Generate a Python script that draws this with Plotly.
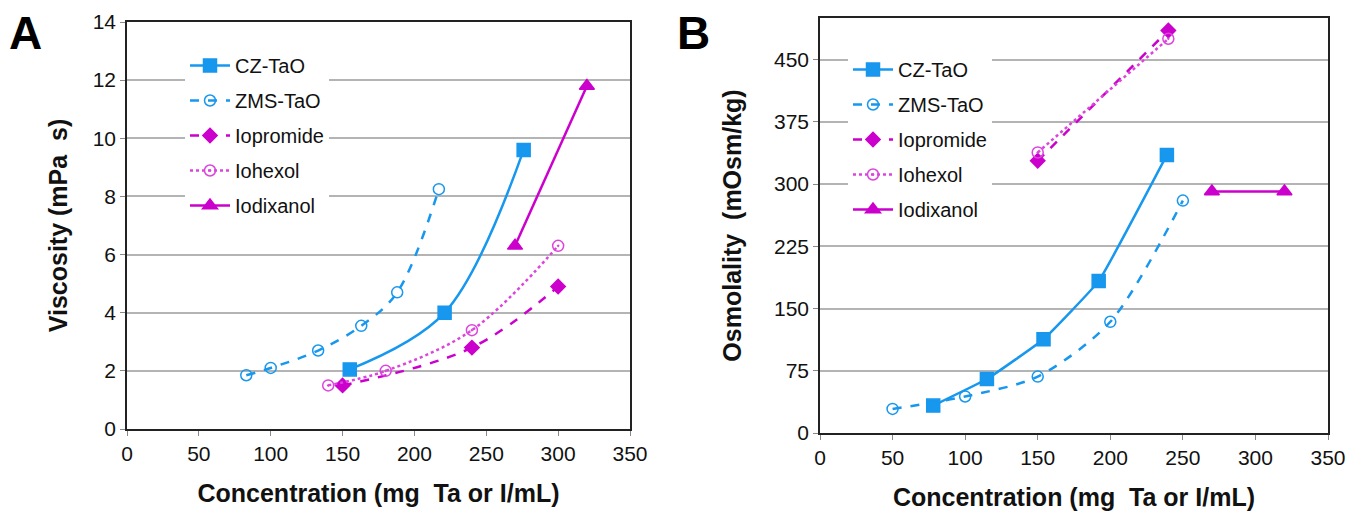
import plotly.graph_objects as go

# panel A: viscosity (mPa s) vs concentration
cz_visc_x = [155, 221, 276]
cz_visc_y = [2.05, 4.0, 9.6]
zms_visc_x = [83, 100, 133, 163, 188, 217]
zms_visc_y = [1.85, 2.1, 2.7, 3.55, 4.7, 8.25]
iopromide_visc_x = [150, 240, 300]
iopromide_visc_y = [1.5, 2.8, 4.9]
iohexol_visc_x = [140, 180, 240, 300]
iohexol_visc_y = [1.5, 2.0, 3.4, 6.3]
iodixanol_visc_x = [270, 320]
iodixanol_visc_y = [6.3, 11.8]

# panel B: osmolality (mOsm/kg) vs concentration
cz_osm_x = [78, 115, 154, 192, 239]
cz_osm_y = [33, 65, 113, 183, 335]
zms_osm_x = [50, 100, 150, 200, 250]
zms_osm_y = [29, 44, 68, 134, 280]
iopromide_osm_x = [150, 240]
iopromide_osm_y = [328, 485]
iohexol_osm_x = [150, 240]
iohexol_osm_y = [338, 475]
iodixanol_osm_x = [270, 320]
iodixanol_osm_y = [291, 291]

x_ticks = [0, 50, 100, 150, 200, 250, 300, 350]
visc_ticks = [0, 2, 4, 6, 8, 10, 12, 14]
osm_ticks = [0, 75, 150, 225, 300, 375, 450]

BLUE = "#1797EE"
MAGENTA = "#CC00CC"
LIGHT_MAGENTA = "#DD44DD"

series_style = {
  "CZ-TaO": dict(color=BLUE, dash="solid", symbol="square", size=13),
  "ZMS-TaO": dict(color=BLUE, dash="dash", symbol="circle-open", size=11),
  "Iopromide": dict(color=MAGENTA, dash="dash", symbol="diamond", size=11),
  "Iohexol": dict(color=LIGHT_MAGENTA, dash="dot", symbol="circle-open-dot", size=11),
  "Iodixanol": dict(color=MAGENTA, dash="solid", symbol="triangle-up", size=13),
}

fig = go.Figure()

def add_series(name, x, y, xaxis, yaxis, legend, smooth):
  s = series_style[name]
  fig.add_trace(go.Scatter(
    x=x,
    y=y,
    mode="lines+markers",
    name=name,
    legend=legend,
    legendgroup=legend + name,
    xaxis=xaxis,
    yaxis=yaxis,
    line=dict(color=s["color"], dash=s["dash"], width=2.5, shape="spline", smoothing=smooth),
    marker=dict(symbol=s["symbol"], size=s["size"], color=s["color"],
                line=dict(color=s["color"], width=1.5)),
  ))

add_series("CZ-TaO", cz_visc_x, cz_visc_y, "x", "y", "legend", 1.0)
add_series("ZMS-TaO", zms_visc_x, zms_visc_y, "x", "y", "legend", 1.0)
add_series("Iopromide", iopromide_visc_x, iopromide_visc_y, "x", "y", "legend", 1.0)
add_series("Iohexol", iohexol_visc_x, iohexol_visc_y, "x", "y", "legend", 1.0)
add_series("Iodixanol", iodixanol_visc_x, iodixanol_visc_y, "x", "y", "legend", 1.0)

add_series("CZ-TaO", cz_osm_x, cz_osm_y, "x2", "y2", "legend2", 0.3)
add_series("ZMS-TaO", zms_osm_x, zms_osm_y, "x2", "y2", "legend2", 0.8)
add_series("Iopromide", iopromide_osm_x, iopromide_osm_y, "x2", "y2", "legend2", 0.5)
add_series("Iohexol", iohexol_osm_x, iohexol_osm_y, "x2", "y2", "legend2", 0.5)
add_series("Iodixanol", iodixanol_osm_x, iodixanol_osm_y, "x2", "y2", "legend2", 0.5)

W, H = 1371, 514
OFF = 8  # page margin around the figure
FONT = "Liberation Sans, Arial, sans-serif"

def px(x):
  return (x - OFF) / W

def py(y):
  return 1 - (y - OFF) / H

def xaxis_style(left, right, anchor):
  return dict(
    domain=[px(left), px(right)],
    range=[0, 350],
    anchor=anchor,
    automargin=False,
    tickvals=x_ticks,
    ticks="outside",
    ticklen=5,
    tickcolor="#888888",
    showgrid=False,
    zeroline=False,
    showline=True,
    linecolor="#222222",
    linewidth=1.5,
    mirror=True,
    tickfont=dict(size=21, color="#111111"),
    title=dict(text="<b>Concentration (mg\u00a0\u00a0Ta or I/mL)</b>", font=dict(size=25, color="#111111"), standoff=21),
  )

def yaxis_style(top, bottom, rng, ticks, title, anchor, standoff):
  return dict(
    domain=[py(bottom), py(top)],
    range=rng,
    tickvals=ticks,
    ticks="outside",
    ticklen=5,
    tickcolor="#888888",
    automargin=False,
    showgrid=True,
    gridcolor="#B4B4B4",
    gridwidth=1.8,
    zeroline=False,
    showline=True,
    linecolor="#222222",
    linewidth=1.5,
    mirror=True,
    anchor=anchor,
    tickfont=dict(size=21, color="#111111"),
    title=dict(text="<b>" + title + "</b>", font=dict(size=25, color="#111111"), standoff=standoff),
  )

def legend_style(left, top):
  return dict(
    x=px(left),
    y=py(top),
    xanchor="left",
    yanchor="top",
    bgcolor="white",
    font=dict(size=20, family=FONT, color="#111111"),
    tracegroupgap=6,
    traceorder="grouped",
    itemwidth=40,
    entrywidth=160,
  )

fig.update_layout(
  width=W,
  height=H,
  margin=dict(l=0, r=0, t=0, b=0),
  paper_bgcolor="white",
  plot_bgcolor="white",
  font=dict(family=FONT),
  xaxis=xaxis_style(127, 630, "y"),
  yaxis=yaxis_style(22, 429, [0, 14], visc_ticks, "Viscosity\u00a0(mPa\u00a0\u00a0s)", "x", 18),
  xaxis2=xaxis_style(820, 1328, "y2"),
  yaxis2=yaxis_style(18, 433, [0, 500], osm_ticks, "Osmolality\u00a0\u00a0(mOsm/kg)", "x2", 25),
  legend=legend_style(185, 46),
  legend2=legend_style(848, 50),
  annotations=[
    dict(text="<b>A</b>", x=px(7), y=py(5), xref="paper", yref="paper",
         xanchor="left", yanchor="top", showarrow=False, font=dict(size=46, color="black")),
    dict(text="<b>B</b>", x=px(675), y=py(5), xref="paper", yref="paper",
         xanchor="left", yanchor="top", showarrow=False, font=dict(size=46, color="black")),
  ],
)

fig.write_html("out.html")
